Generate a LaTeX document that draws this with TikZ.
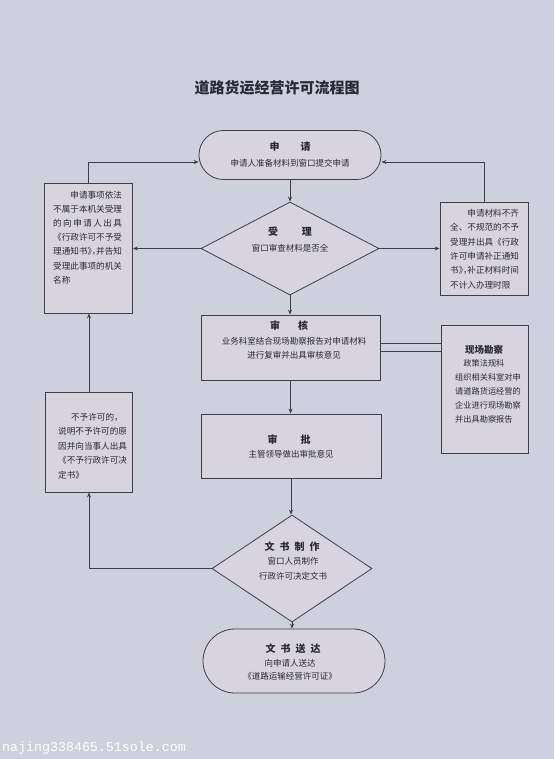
\documentclass[tikz,border=0pt]{standalone}
\usepackage{fontspec}
\setmainfont{Noto Sans CJK SC}
\newfontfamily\wmfont{Liberation Mono}
\usetikzlibrary{shapes.geometric,arrows.meta}
\definecolor{bgc}{RGB}{207,208,222}
\definecolor{boxc}{RGB}{215,211,223}
\definecolor{lc}{RGB}{62,62,72}
\definecolor{tc}{RGB}{42,42,52}
\newcommand\hclose[1]{\makebox[0.5em][l]{#1}}
\tikzset{
  line/.style={draw=lc, line width=0.8pt},
  arr/.style={line, -{Stealth[length=5pt,width=4pt]}},
  shp/.style={line, fill=boxc, inner sep=0pt},
  pill/.style={shp, rectangle, minimum width=182pt},
  boxr/.style={shp, rectangle},
  dia/.style={shp, diamond},
  head/.style={text=tc, font=\bfseries\fontsize{10}{12}\selectfont, inner sep=0pt},
  body/.style={text=tc, font=\fontsize{8.5}{13.5}\selectfont, inner sep=0pt, align=center},
  side/.style={text=tc, inner sep=0pt, align=left, anchor=west},
}
\begin{document}
\begin{tikzpicture}[x=1pt,y=-1pt]
\fill[bgc] (0,0) rectangle (554,759);
\useasboundingbox (0,0) rectangle (554,759);

\node[text=tc, font=\bfseries\fontsize{15}{15}\selectfont, inner sep=0pt] (title) at (277,88) {道路货运经营许可流程图};

% shapes
\node[pill, minimum height=49pt, rounded corners=24.5pt] (apply) at (290,155) {};
\node[dia, minimum width=178pt, minimum height=93pt] (accept) at (290,248.5) {};
\node[boxr, minimum width=179pt, minimum height=65pt] (review) at (290.5,347.5) {};
\node[boxr, minimum width=180pt, minimum height=64pt] (approve) at (291,446) {};
\node[dia, minimum width=160pt, minimum height=107pt] (doc) at (292,568.5) {};
\node[pill, minimum height=64pt, rounded corners=32pt] (deliver) at (294,661) {};
\node[boxr, minimum width=88pt, minimum height=130pt] (rej1) at (88.5,248) {};
\node[boxr, minimum width=87pt, minimum height=100pt] (rej2) at (89,442) {};
\node[boxr, minimum width=88pt, minimum height=93pt] (corr) at (484,248.5) {};
\node[boxr, minimum width=87pt, minimum height=128pt] (site) at (484.5,389) {};

% texts
\node[head] (applyh) at (290,147) {申\hspace{2.1em}请};
\node[body] (applyt) at (290,163) {申请人准备材料到窗口提交申请};

\node[head] (accepth) at (290,232) {受\hspace{2.4em}理};
\node[body] (acceptt) at (290,248) {窗口审查材料是否全};

\node[head] (reviewh) at (289,326) {审\hspace{1.8em}核};
\node[body] (reviewt) at (294,348.5) {业务科室结合现场勘察报告对申请材料\\进行复审并出具审核意见};

\node[head] (approveh) at (289,440) {审\hspace{2.3em}批};
\node[body] (approvet) at (291,454) {主管领导做出审批意见};

\node[head] (doch) at (292,547) {文\hspace{0.5em}书\hspace{0.5em}制\hspace{0.5em}作};
\node[body, font=\fontsize{8.5}{15}\selectfont] (doct) at (293,568.5) {窗口人员制作\\行政许可决定文书};

\node[head] (deliverh) at (293,649) {文\hspace{0.5em}书\hspace{0.5em}送\hspace{0.5em}达};
\node[body] (delivert) at (290,670) {向申请人送达\\《道路运输经营许可证》};

\node[side, font=\fontsize{8.6}{14.2}\selectfont] (rej1t) at (53,237.5) {\hspace*{2em}申请事项依法\\不属于本机关受理\\\makebox[8em][s]{的\hfill 向\hfill 申\hfill 请\hfill 人\hfill 出\hfill 具}\\《行政许可不予受\\理通知书\hclose{》}\hclose{，}并告知\\受理此事项的机关\\名称};

\node[side, font=\fontsize{8.6}{14.4}\selectfont] (corrt) at (450,249) {\hspace*{2em}申请材料不齐\\全、不规范的不予\\受理并出具《行政\\许可申请补正通知\\书\hclose{》}\hclose{，}补正材料时间\\不计入办理时限};

\node[side, font=\fontsize{8.6}{14.5}\selectfont] (rej2t) at (58,446) {\hspace*{1.5em}不予许可的，\\说明不予许可的原\\因并向当事人出具\\《不予行政许可决\\定书》};

\node[text=tc, font=\bfseries\fontsize{9.5}{11}\selectfont, inner sep=0pt] (siteh) at (484,350) {现场勘察};
\node[side, font=\fontsize{8.2}{14.2}\selectfont] (sitet) at (455,391.5) {\hspace*{1em}政策法规科\\组织相关科室对申\\请道路货运经营的\\企业进行现场勘察\\并出具勘察报告};

% connectors
\coordinate (dA) at ([yshift=4pt]review.east);
\coordinate (dB) at ([yshift=-4pt]review.east);
\coordinate (inL) at ([yshift=-7pt]apply.west);
\coordinate (inR) at ([yshift=-7pt]apply.east);
\draw[arr] (apply.south) -- (accept.north);
\draw[arr] (accept.south) -- (review.north -| accept.south);
\draw[arr] (review.south) -- (review.south |- approve.north);
\draw[arr] (approve.south) -- (approve.south |- doc.north);
\draw[arr] (doc.south) -- (doc.south |- deliver.north);
\draw[arr] (accept.west) -- (rej1.east |- accept.west);
\draw[arr] (accept.east) -- (corr.west |- accept.east);
\draw[arr] (rej1.north) |- (inL);
\draw[arr] (corr.north) |- (inR);
\draw[line] (dA) -- (site.west |- dA);
\draw[line] (dB) -- (site.west |- dB);
\draw[arr] (rej2.north) -- (rej2.north |- rej1.south);
\draw[arr] (doc.west) -| (rej2.south);

\node[text=white, font=\wmfont\fontsize{13.3}{14}\selectfont, inner sep=0pt, anchor=west] (wm) at (2,748) {najing338465.51sole.com};
\end{tikzpicture}
\end{document}
